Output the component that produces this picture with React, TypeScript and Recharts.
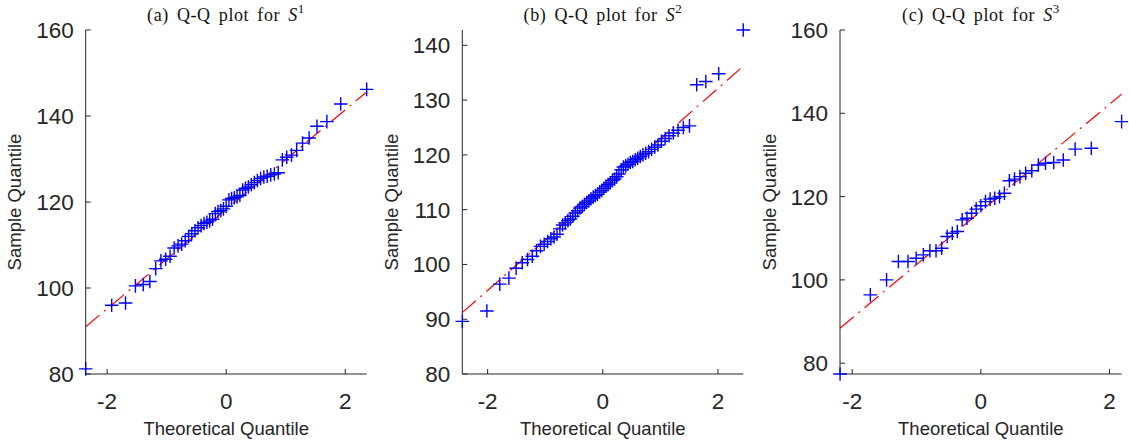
import React from 'react';
import { ScatterChart, Scatter, XAxis, YAxis, ReferenceLine, Label } from 'recharts';

// theoretical quantiles (x) and sample quantiles (y)
const qA = [-2.36, -1.923, -1.691, -1.525, -1.393, -1.282, -1.184, -1.097, -1.017, -0.943, -0.874, -0.809, -0.748, -0.689, -0.632, -0.578, -0.524, -0.473, -0.422, -0.373, -0.324, -0.277, -0.23, -0.183, -0.137, -0.091, -0.046, 0, 0.046, 0.091, 0.137, 0.183, 0.23, 0.277, 0.324, 0.373, 0.422, 0.473, 0.524, 0.578, 0.632, 0.689, 0.748, 0.809, 0.874, 0.943, 1.017, 1.097, 1.184, 1.282, 1.393, 1.525, 1.691, 1.923, 2.36];
const sA = [81.2, 96.0, 96.5, 100.5, 100.8, 101.5, 104.5, 106.3, 106.7, 107.4, 109.3, 109.8, 110.2, 111.0, 112.0, 112.6, 113.3, 114.0, 114.5, 115.0, 115.3, 115.6, 116.0, 117.3, 117.8, 118.0, 118.4, 119.0, 120.5, 120.8, 121.0, 121.2, 121.5, 122.8, 123.2, 123.5, 124.0, 124.5, 125.0, 125.5, 125.8, 126.0, 126.3, 126.5, 126.8, 129.8, 130.4, 130.9, 132.0, 133.7, 134.9, 137.6, 138.7, 142.8, 146.2];

const qB = [-2.439, -2.013, -1.789, -1.631, -1.505, -1.399, -1.307, -1.224, -1.15, -1.082, -1.018, -0.958, -0.901, -0.847, -0.795, -0.745, -0.698, -0.651, -0.606, -0.563, -0.52, -0.478, -0.437, -0.397, -0.357, -0.319, -0.28, -0.242, -0.205, -0.167, -0.129, -0.092, -0.055, -0.018, 0.018, 0.055, 0.092, 0.129, 0.167, 0.205, 0.242, 0.28, 0.319, 0.357, 0.397, 0.437, 0.478, 0.52, 0.563, 0.606, 0.651, 0.698, 0.745, 0.795, 0.847, 0.901, 0.958, 1.018, 1.082, 1.15, 1.224, 1.307, 1.399, 1.505, 1.631, 1.789, 2.013, 2.439];
const sB = [89.6, 91.5, 96.4, 97.5, 99.3, 100.3, 100.9, 101.5, 102.5, 103.3, 103.7, 104.2, 104.7, 105.0, 105.5, 106.5, 107.2, 107.6, 108.0, 108.3, 108.8, 109.4, 109.8, 110.3, 110.6, 111.0, 111.3, 111.6, 112.0, 112.3, 112.6, 112.8, 113.2, 113.5, 113.9, 114.3, 114.6, 114.9, 115.3, 115.6, 116.0, 116.5, 117.3, 117.8, 118.0, 118.3, 118.6, 118.8, 119.1, 119.4, 119.7, 120.0, 120.3, 120.6, 121.0, 121.4, 121.8, 122.5, 123.0, 123.5, 124.0, 124.5, 125.0, 125.3, 132.8, 133.4, 134.8, 142.8];

const qC = [-2.189, -1.718, -1.466, -1.282, -1.133, -1.006, -0.894, -0.792, -0.697, -0.608, -0.524, -0.444, -0.366, -0.29, -0.216, -0.144, -0.072, 0, 0.072, 0.144, 0.216, 0.29, 0.366, 0.444, 0.524, 0.608, 0.697, 0.792, 0.894, 1.006, 1.133, 1.282, 1.466, 1.718, 2.189];
const sC = [77.4, 96.4, 100.0, 104.4, 104.4, 105.2, 106.0, 107.0, 107.0, 107.6, 110.4, 111.2, 111.6, 114.4, 114.8, 116.0, 117.0, 117.8, 118.8, 119.4, 119.6, 120.0, 120.8, 123.8, 124.2, 124.8, 125.6, 126.2, 127.6, 128.0, 128.2, 128.8, 131.4, 131.6, 138.0];

// fitted reference lines: [x0, x1] and [y0, y1]
const lineAX = [-2.36, 2.36];
const lineAY = [91.0, 145.6];
const lineBX = [-2.44, 2.44];
const lineBY = [91.2, 136.2];
const lineCX = [-2.19, 2.19];
const lineCY = [88.4, 144.6];

const xTicks = [-2, 0, 2];
const yTicksA = [80, 100, 120, 140, 160];
const yTicksB = [80, 90, 100, 110, 120, 130, 140];
const yTicksC = [80, 100, 120, 140, 160];

const AXIS = '#262626';
const SANS = "'Liberation Sans', Arial, sans-serif";

const toPoints = (xs: number[], ys: number[]) => xs.map((x, i) => ({ x, y: ys[i] }));

const PlusMark = (props: any) => {
  const { cx, cy } = props;
  if (cx == null || cy == null) return null;
  const h = 6.8;
  return (
    <path
      d={`M${cx - h},${cy}H${cx + h}M${cx},${cy - h}V${cy + h}`}
      stroke="#0000ff"
      strokeWidth={1.4}
      fill="none"
    />
  );
};

const YLabel = (props: any) => {
  const vb = props.viewBox || {};
  const x = vb.x + vb.width - 64.5;
  const y = vb.y + vb.height / 2;
  return (
    <text x={x} y={y} transform={`rotate(-90 ${x} ${y})`} textAnchor="middle" fill={AXIS} fontFamily={SANS} fontSize={18.5}>
      Sample Quantile
    </text>
  );
};

const XLabel = (props: any) => {
  const vb = props.viewBox || {};
  return (
    <text x={vb.x + vb.width / 2} y={vb.y + 61} textAnchor="middle" fill={AXIS} fontFamily={SANS} fontSize={18.5}>
      Theoretical Quantile
    </text>
  );
};

interface PanelProps {
  left: number;
  marginLeft: number;
  marginRight: number;
  xDomain: number[];
  yDomain: number[];
  yTicks: number[];
  qs: number[];
  ss: number[];
  lx: number[];
  ly: number[];
}

const Panel: React.FC<PanelProps> = ({ left, marginLeft, marginRight, xDomain, yDomain, yTicks, qs, ss, lx, ly }) => (
  <div style={{ position: 'absolute', left, top: 0 }}>
    <ScatterChart width={376} height={445} margin={{ top: 30, right: marginRight, bottom: 31, left: marginLeft }}>
      <XAxis
        type="number"
        dataKey="x"
        domain={xDomain}
        ticks={xTicks}
        interval={0}
        height={40}
        tickSize={-5}
        tickMargin={23.6}
        axisLine={{ stroke: AXIS, strokeWidth: 1 }}
        tickLine={{ stroke: AXIS, strokeWidth: 1 }}
        tick={{ fill: AXIS, fontSize: 22.5, fontFamily: SANS }}
      >
        <Label content={<XLabel />} />
      </XAxis>
      <YAxis
        type="number"
        dataKey="y"
        domain={yDomain}
        ticks={yTicks}
        interval={0}
        width={60}
        tickSize={-5}
        tickMargin={17}
        axisLine={{ stroke: AXIS, strokeWidth: 1 }}
        tickLine={{ stroke: AXIS, strokeWidth: 1 }}
        tick={{ fill: AXIS, fontSize: 22.5, fontFamily: SANS }}
      >
        <Label content={<YLabel />} />
      </YAxis>
      <ReferenceLine
        segment={[{ x: lx[0], y: ly[0] }, { x: lx[1], y: ly[1] }]}
        stroke="#ff0000"
        strokeWidth={1.2}
        strokeDasharray="18 6 2 6"
        ifOverflow="visible"
      />
      <Scatter data={toPoints(qs, ss)} shape={<PlusMark />} isAnimationActive={false} />
    </ScatterChart>
  </div>
);

const Title: React.FC<{ x: number; tag: string; sup: string }> = ({ x, tag, sup }) => (
  <text x={x} y={21} textAnchor="middle" fontFamily="'Liberation Serif', 'Times New Roman', serif" fontSize={18} letterSpacing={0.6} wordSpacing={3} fill="#111">
    {`(${tag}) Q-Q plot for `}
    <tspan fontStyle="italic">S</tspan>
    <tspan dy={-8} fontSize={13}>{sup}</tspan>
  </text>
);

export default function App() {
  return (
    <div style={{ position: 'absolute', left: 0, top: 0, width: 1129, height: 445, background: '#fff' }}>
      <Panel left={0} marginLeft={25.7} marginRight={9.3} xDomain={[-2.36, 2.36]} yDomain={[80, 160]} yTicks={yTicksA} qs={qA} ss={sA} lx={lineAX} ly={lineAY} />
      <Panel left={376} marginLeft={26.3} marginRight={8.7} xDomain={[-2.44, 2.44]} yDomain={[80, 142.8]} yTicks={yTicksB} qs={qB} ss={sB} lx={lineBX} ly={lineBY} />
      <Panel left={752} marginLeft={28} marginRight={6.3} xDomain={[-2.19, 2.19]} yDomain={[77.4, 160]} yTicks={yTicksC} qs={qC} ss={sC} lx={lineCX} ly={lineCY} />
      <svg width={1129} height={445} style={{ position: 'absolute', left: 0, top: 0, pointerEvents: 'none' }}>
        <Title x={226} tag="a" sup="1" />
        <Title x={603} tag="b" sup="2" />
        <Title x={981} tag="c" sup="3" />
      </svg>
    </div>
  );
}
